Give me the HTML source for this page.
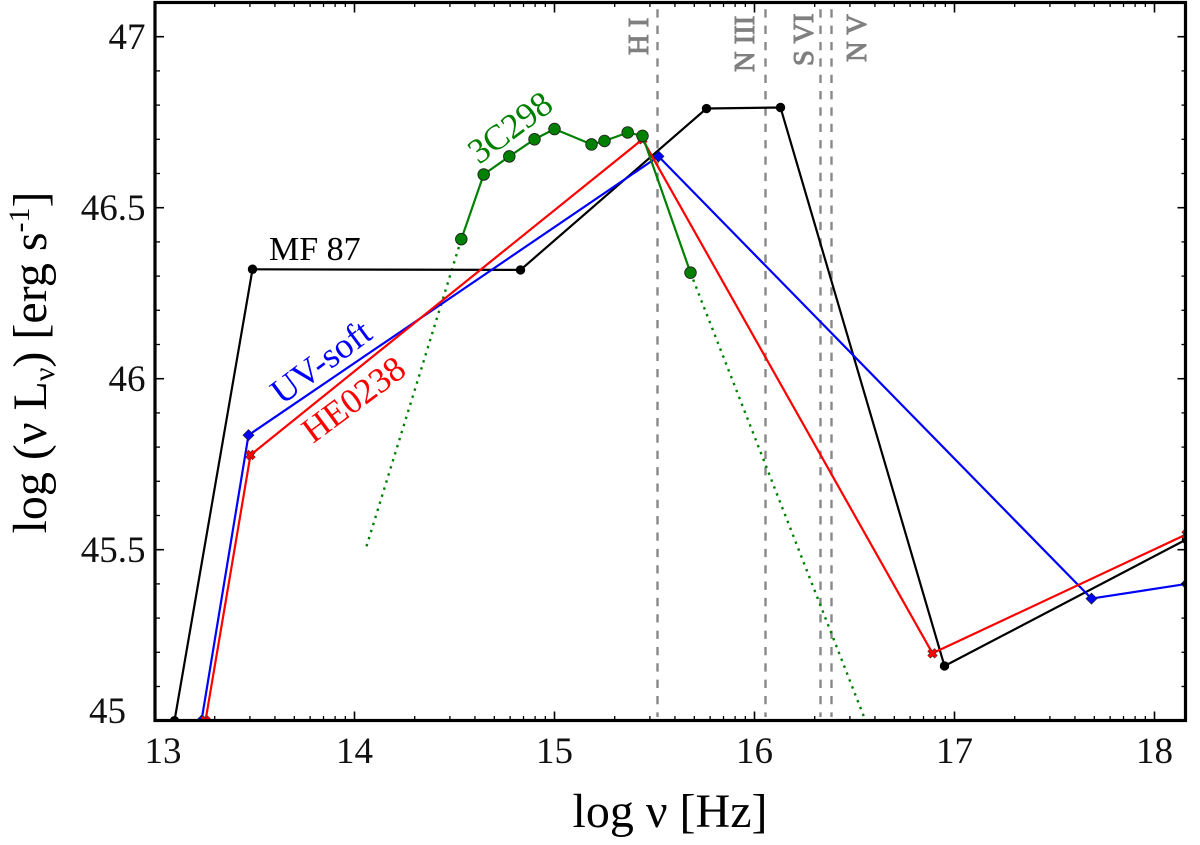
<!DOCTYPE html>
<html lang="en">
<head>
<meta charset="utf-8">
<title>Quasar SED comparison</title>
<style>
html,body{margin:0;padding:0;background:#fff;width:1200px;height:845px;overflow:hidden}
svg{display:block}
text{font-family:"Liberation Serif",serif}
</style>
</head>
<body>
<svg id="chart" xmlns="http://www.w3.org/2000/svg" width="1200" height="845" viewBox="0 0 1200 845">
<defs><clipPath id="plot-clip"><rect x="155" y="2.5" width="1030.5" height="718"/></clipPath></defs>
<rect x="0" y="0" width="1200" height="845" fill="#fff"/>
<g id="lines-layer" clip-path="url(#plot-clip)"></g>
<g id="axes-layer"></g>
<g id="labels-layer">
<text x="670" y="827" font-size="48" text-anchor="middle">log ν [Hz]</text>
<text transform="translate(46,362.5) rotate(-90)" font-size="48" text-anchor="middle">log (ν L<tspan font-size="30" dy="8">ν</tspan><tspan dy="-8">) [erg s</tspan><tspan font-size="30" dy="-17">-1</tspan><tspan dy="17">]</tspan></text>
<text x="269" y="260" font-size="34" fill="#000">MF 87</text>
<text transform="translate(282,405.5) rotate(-36.5)" font-size="36" fill="#0000ff">UV-soft</text>
<text transform="translate(313,444) rotate(-36.5)" font-size="35.5" fill="#ff0000">HE0238</text>
<text transform="translate(479,165) rotate(-36.5)" font-size="35.5" fill="#008000">3C298</text>
<text transform="translate(648,55) rotate(-90)" font-size="28.5" stroke="#808080" stroke-width="1" fill="#808080">H I</text>
<text transform="translate(754,72) rotate(-90)" font-size="28.5" stroke="#808080" stroke-width="1" fill="#808080">N III</text>
<text transform="translate(813,66) rotate(-90)" font-size="28.5" stroke="#808080" stroke-width="1" fill="#808080">S VI</text>
<text transform="translate(866,62) rotate(-90)" font-size="28.5" stroke="#808080" stroke-width="1" fill="#808080">N V</text>
</g>
</svg>
<script>
const xTickLabels = [13, 14, 15, 16, 17, 18];
const yTickValues = [45, 45.5, 46, 46.5, 47];
const yTickLabels = ['45', '45.5', '46', '46.5', '47'];
const ionLines = [15.515, 16.055, 16.33, 16.385];

const mf87X = [13.10, 13.49, 14.83, 15.76, 16.13, 16.95, 18.16];
const mf87Y = [45.00, 46.32, 46.318, 46.79, 46.793, 45.16, 45.53];

const uvSoftX = [13.235, 13.47, 15.52, 17.685, 18.16];
const uvSoftY = [45.00, 45.835, 46.65, 45.357, 45.40];

const he0238X = [13.255, 13.48, 15.44, 16.89, 18.16];
const he0238Y = [45.00, 45.777, 46.70, 45.197, 45.545];

const c298X = [14.534, 14.646, 14.774, 14.90, 15.0, 15.185, 15.25, 15.366, 15.44, 15.68];
const c298Y = [46.408, 46.597, 46.65, 46.70, 46.73, 46.685, 46.695, 46.72, 46.71, 46.31];

const c298ExtrapLowX = [14.06, 14.534];
const c298ExtrapLowY = [45.51, 46.408];
const c298ExtrapHighX = [15.68, 16.555];
const c298ExtrapHighY = [46.31, 45.0];

const NS = 'http://www.w3.org/2000/svg';
const sx = v => 154.5 + 200 * (v - 13);
const sy = v => 720.7 - 342 * (v - 45);
const PL = 155, PR = 1185.5, PT = 2.5, PB = 720.5;

function mk(tag, attrs, parent) {
  const el = document.createElementNS(NS, tag);
  for (const k in attrs) el.setAttribute(k, attrs[k]);
  parent.appendChild(el);
  return el;
}
function pts(xs, ys) {
  return xs.map((x, i) => sx(x).toFixed(1) + ',' + sy(ys[i]).toFixed(1)).join(' ');
}

const plot = document.getElementById('lines-layer');
const axes = document.getElementById('axes-layer');

ionLines.forEach(v => {
  const l = mk('line', {x1: sx(v), x2: sx(v), y1: 9.3, y2: 717, stroke: '#888', 'stroke-width': 2.4, 'stroke-dasharray': '8.3 8.05'}, plot);
  
  
});

function dotted(xs, ys, name) {
  const d = mk('polyline', {points: pts(xs, ys), fill: 'none', stroke: '#008000', 'stroke-width': 2.4, 'stroke-dasharray': '2.4 5'}, plot);
  
  
}
dotted(c298ExtrapLowX, c298ExtrapLowY, 'extrapolation-3c298-low');
dotted(c298ExtrapHighX, c298ExtrapHighY, 'extrapolation-3c298-high');

function series(xs, ys, color, marker, name, width) {
  const g = mk('g', {}, plot);
  
  
  mk('polyline', {points: pts(xs, ys), fill: 'none', stroke: color, 'stroke-width': width, 'stroke-linejoin': 'round'}, g);
  xs.forEach((x, i) => {
    const cx = sx(x), cy = sy(ys[i]);
    let m;
    if (marker === 'circle') {
      m = mk('circle', {cx: cx, cy: cy, r: 4.7, fill: '#000'}, g);
    } else if (marker === 'big') {
      m = mk('circle', {cx: cx, cy: cy, r: 5.8, fill: '#008000', stroke: '#222', 'stroke-width': 0.9}, g);
    } else if (marker === 'diamond') {
      m = mk('path', {d: `M${cx} ${cy - 5.5}L${cx + 5.5} ${cy}L${cx} ${cy + 5.5}L${cx - 5.5} ${cy}Z`, fill: color, stroke: '#222', 'stroke-width': 0.7}, g);
    } else {
      const a = 3.6;
      const d = `M${cx - a} ${cy - a}L${cx + a} ${cy + a}M${cx - a} ${cy + a}L${cx + a} ${cy - a}`;
      mk('path', {d: d, fill: 'none', stroke: '#333', 'stroke-width': 4.4}, g);
      m = mk('path', {d: d, fill: 'none', stroke: color, 'stroke-width': 3}, g);
    }
    
    
  });
}
series(mf87X, mf87Y, '#000', 'circle', 'series-mf87', 2.2);
series(uvSoftX, uvSoftY, '#0000ff', 'diamond', 'series-uv-soft', 2.2);
series(he0238X, he0238Y, '#ff0000', 'cross', 'series-he0238', 2.2);
series(c298X, c298Y, '#008000', 'big', 'series-3c298', 2.2);

const frame = mk('rect', {x: PL, y: PT, width: PR - PL, height: PB - PT, fill: 'none', stroke: '#000', 'stroke-width': 3.2}, axes);



function tick(x1, y1, x2, y2, w, name) {
  const t = mk('line', {x1: x1, y1: y1, x2: x2, y2: y2, stroke: '#000', 'stroke-width': w}, axes);
  
  
}
xTickLabels.forEach((v, i) => {
  const x = sx(v);
  tick(x, PB, x, PB - 9, 1.6, 'x-major-tick');
  tick(x, PT, x, PT + 10, 1.6, 'x-major-tick-top');
  const label = mk('text', {x: i === 0 ? x + 8.5 : x, y: 763, 'font-size': 37, 'text-anchor': 'middle', fill: '#111'}, axes);
  label.textContent = String(v);
  
  
  for (let k = 2; k < 10; k++) {
    const mx = sx(v + Math.log10(k));
    if (mx < PR) {
      tick(mx, PB, mx, PB - 4.5, 1.3, 'x-minor-tick');
      tick(mx, PT, mx, PT + 4.5, 1.3, 'x-minor-tick-top');
    }
  }
});
yTickValues.forEach((v, i) => {
  const y = sy(v);
  if (v > 45) {
    tick(PL, y, PL + 9, y, 1.6, 'y-major-tick');
    tick(PR, y, PR - 8, y, 1.6, 'y-major-tick-right');
  }
  const label = mk('text', {x: i === 0 ? 126 : 145.5, y: i === 0 ? y + 2.5 : y + 12.5, 'font-size': 37, 'text-anchor': 'end', fill: '#111'}, axes);
  label.textContent = yTickLabels[i];
  
  
  for (let k = 1; k < 5; k++) {
    const my = sy(v + k * 0.1);
    if (my > PT) {
      tick(PL, my, PL + 5, my, 1.3, 'y-minor-tick');
      tick(PR, my, PR - 4, my, 1.3, 'y-minor-tick-right');
    }
  }
});
</script>
</body>
</html>
